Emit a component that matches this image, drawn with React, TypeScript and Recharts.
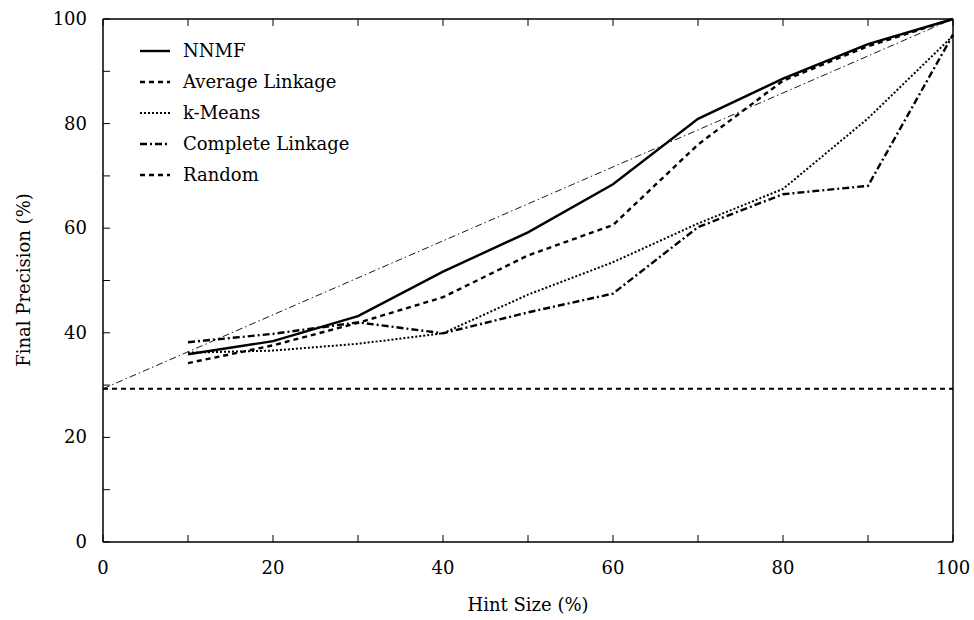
import React from 'react';
import { LineChart, Line, XAxis, YAxis } from 'recharts';

const hintSizes = [0, 10, 20, 30, 40, 50, 60, 70, 80, 90, 100];
const nnmf = [null, 35.9, 38.4, 43.2, 51.7, 59.2, 68.4, 80.9, 88.6, 95.2, 100];
const averageLinkage = [null, 34.2, 37.6, 41.9, 46.8, 54.8, 60.6, 76.0, 88.2, 94.8, 100];
const kMeans = [null, 36.2, 36.6, 37.9, 39.9, 47.3, 53.5, 60.9, 67.5, 81.0, 96.8];
const completeLinkage = [null, 38.2, 39.8, 42.0, 39.9, 43.9, 47.5, 60.2, 66.5, 68.1, 97.0];
const randomBaseline = [29.3, 29.3, 29.3, 29.3, 29.3, 29.3, 29.3, 29.3, 29.3, 29.3, 29.3];
const ideal = [29.3, null, null, null, null, null, null, null, null, null, 100];
const tickValues = [0, 10, 20, 30, 40, 50, 60, 70, 80, 90, 100];

const data = hintSizes.map((x, i) => ({
  x,
  nnmf: nnmf[i],
  avg: averageLinkage[i],
  km: kMeans[i],
  cl: completeLinkage[i],
  rnd: randomBaseline[i],
  ideal: ideal[i],
}));

const FONT = '"DejaVu Serif", "Liberation Serif", serif';
const FS = 18;
const TICK_LEN = 7;

const legendItems = [
  { label: 'NNMF', dash: undefined, width: 2.4 },
  { label: 'Average Linkage', dash: '5 4', width: 2.4 },
  { label: 'k-Means', dash: '2 2', width: 2 },
  { label: 'Complete Linkage', dash: '7 3 2 3', width: 2.4 },
  { label: 'Random', dash: '5 4', width: 2.4 },
];

const LeftTick = (props: any) => {
  const { x, y, payload } = props;
  const v = payload.value;
  return (
    <g>
      <line x1={x} x2={x + TICK_LEN} y1={y} y2={y} stroke="#000" strokeWidth={1} />
      {v % 20 === 0 && (
        <text x={x - 16} y={y} dy={6} textAnchor="end" fontFamily={FONT} fontSize={FS} fill="#000">
          {v}
        </text>
      )}
    </g>
  );
};

const RightTick = (props: any) => {
  const { x, y } = props;
  return <line x1={x} x2={x - TICK_LEN} y1={y} y2={y} stroke="#000" strokeWidth={1} />;
};

const BottomTick = (props: any) => {
  const { x, y, payload } = props;
  const v = payload.value;
  return (
    <g>
      <line x1={x} x2={x} y1={y} y2={y - TICK_LEN} stroke="#000" strokeWidth={1} />
      {v % 20 === 0 && (
        <text x={x} y={y + 32} textAnchor="middle" fontFamily={FONT} fontSize={FS} fill="#000">
          {v}
        </text>
      )}
    </g>
  );
};

const TopTick = (props: any) => {
  const { x, y } = props;
  return <line x1={x} x2={x} y1={y} y2={y + TICK_LEN} stroke="#000" strokeWidth={1} />;
};

export default function App() {
  return (
    <div style={{ position: 'fixed', left: 0, top: 0, width: 974, height: 620, background: '#fff' }}>
      <LineChart width={974} height={620} data={data} margin={{ top: 18, right: 20, bottom: 48, left: 0 }}>
        <XAxis
          xAxisId="b"
          dataKey="x"
          type="number"
          domain={[0, 100]}
          ticks={tickValues}
          tick={<BottomTick />}
          tickLine={false}
          tickSize={0}
          tickMargin={0}
          axisLine={{ stroke: '#000', strokeWidth: 1.5 }}
          height={30}
          interval={0}
        />
        <XAxis
          xAxisId="t"
          dataKey="x"
          type="number"
          orientation="top"
          domain={[0, 100]}
          ticks={tickValues}
          tick={<TopTick />}
          tickLine={false}
          tickSize={0}
          tickMargin={0}
          axisLine={{ stroke: '#000', strokeWidth: 1.5 }}
          height={1}
          interval={0}
        />
        <YAxis
          yAxisId="l"
          type="number"
          domain={[0, 100]}
          ticks={tickValues}
          tick={<LeftTick />}
          tickLine={false}
          tickSize={0}
          tickMargin={0}
          axisLine={{ stroke: '#000', strokeWidth: 1.5 }}
          width={103}
          interval={0}
        />
        <YAxis
          yAxisId="r"
          orientation="right"
          type="number"
          domain={[0, 100]}
          ticks={tickValues}
          tick={<RightTick />}
          tickLine={false}
          tickSize={0}
          tickMargin={0}
          axisLine={{ stroke: '#000', strokeWidth: 1.5 }}
          width={1}
          interval={0}
        />
        <Line xAxisId="b" yAxisId="l" dataKey="ideal" stroke="#000" strokeWidth={0.9} strokeDasharray="7 3 1.5 3" dot={false} connectNulls isAnimationActive={false} />
        <Line xAxisId="b" yAxisId="l" dataKey="rnd" stroke="#000" strokeWidth={2.2} strokeDasharray="5 4" dot={false} isAnimationActive={false} />
        <Line xAxisId="b" yAxisId="l" dataKey="cl" stroke="#000" strokeWidth={2.4} strokeDasharray="7 3 2 3" dot={false} isAnimationActive={false} />
        <Line xAxisId="b" yAxisId="l" dataKey="km" stroke="#000" strokeWidth={2} strokeDasharray="2 2" dot={false} isAnimationActive={false} />
        <Line xAxisId="b" yAxisId="l" dataKey="avg" stroke="#000" strokeWidth={2.4} strokeDasharray="5 4" dot={false} isAnimationActive={false} />
        <Line xAxisId="b" yAxisId="l" dataKey="nnmf" stroke="#000" strokeWidth={2.4} dot={false} isAnimationActive={false} />
      </LineChart>
      <svg width={260} height={160} style={{ position: 'absolute', left: 140, top: 41 }}>
        {legendItems.map((it, i) => {
          const cy = 10 + i * 31;
          return (
            <g key={it.label}>
              <line x1={0} x2={30} y1={cy} y2={cy} stroke="#000" strokeWidth={it.width} strokeDasharray={it.dash} />
              <text x={43} y={cy} dy={6} fontFamily={FONT} fontSize={FS} fill="#000">
                {it.label}
              </text>
            </g>
          );
        })}
      </svg>
      <div
        style={{
          position: 'absolute',
          left: 528,
          top: 604,
          transform: 'translate(-50%, -50%)',
          fontFamily: FONT,
          fontSize: FS,
          whiteSpace: 'nowrap',
        }}
      >
        Hint Size (%)
      </div>
      <div
        style={{
          position: 'absolute',
          left: 23,
          top: 280,
          transform: 'translate(-50%, -50%) rotate(-90deg)',
          fontFamily: FONT,
          fontSize: FS,
          whiteSpace: 'nowrap',
        }}
      >
        Final Precision (%)
      </div>
    </div>
  );
}
